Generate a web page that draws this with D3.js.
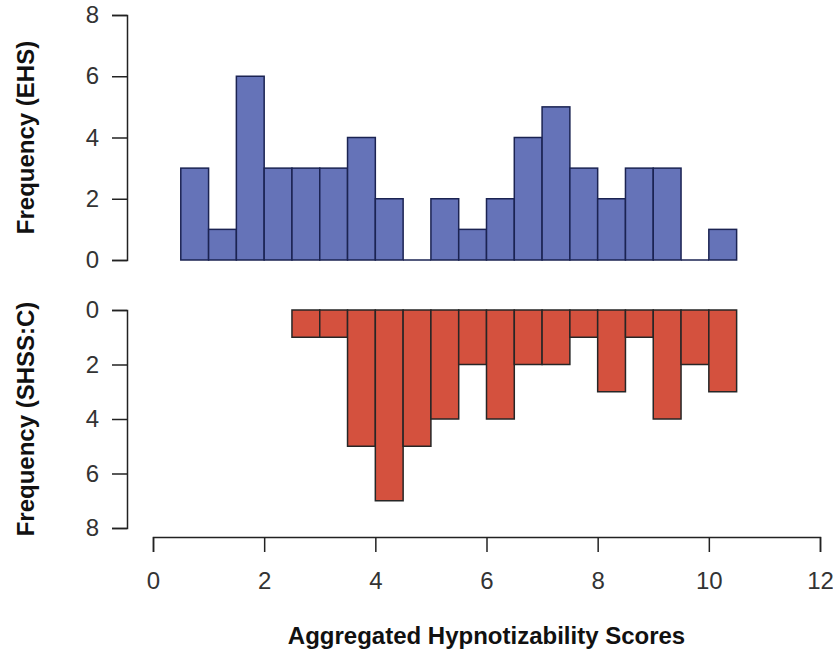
<!DOCTYPE html>
<html lang="en">
<head>
    <meta charset="UTF-8">
    <title>Hypnotizability Histograms</title>
    <script src="https://d3js.org/d3.v7.min.js"></script>
    <style>
        * { margin: 0; padding: 0; box-sizing: border-box; }
        body { background: #fff; font-family: Arial, "Liberation Sans", sans-serif; }
        svg { display: block; }
    </style>
</head>
<body>
    <svg width="833" height="649"></svg>

    <script>
        // bin left edges (width 0.5)
        const binStarts = [0.5, 1, 1.5, 2, 2.5, 3, 3.5, 4, 4.5, 5, 5.5, 6, 6.5, 7, 7.5, 8, 8.5, 9, 9.5, 10];
        const binWidth = 0.5;

        // EHS counts, one per bin
        const ehsCounts = [3, 1, 6, 3, 3, 3, 4, 2, 0, 2, 1, 2, 4, 5, 3, 2, 3, 3, 0, 1];
        // SHSS:C counts (null = outside the data range)
        const shssCounts = [null, null, null, null, 1, 1, 5, 7, 5, 4, 2, 4, 2, 2, 1, 3, 1, 4, 2, 3];

        const xTicks = [0, 2, 4, 6, 8, 10, 12];
        const yTicks = [0, 2, 4, 6, 8];

        const svg = d3.select("svg");
        const font = "Arial, 'Liberation Sans', sans-serif";
        const axisColor = "#222";

        const x = d3.scaleLinear().domain([0, 12]).range([153, 820]);
        const yTop = d3.scaleLinear().domain([0, 8]).range([260, 15]);
        const yBot = d3.scaleLinear().domain([0, 8]).range([310, 528]);

        const ehs = binStarts.map((b, i) => ({ x0: b, x1: b + binWidth, n: ehsCounts[i] }));
        const shss = binStarts.map((b, i) => ({ x0: b, x1: b + binWidth, n: shssCounts[i] }))
            .filter(d => d.n !== null);

        // top histogram (bars grow upward)
        svg.append("g")
            .selectAll("rect")
            .data(ehs.filter(d => d.n > 0))
            .join("rect")
            .attr("x", d => x(d.x0))
            .attr("y", d => yTop(d.n))
            .attr("width", d => x(d.x1) - x(d.x0))
            .attr("height", d => yTop(0) - yTop(d.n))
            .attr("fill", "#6573b8")
            .attr("stroke", "#1b2352")
            .attr("stroke-width", 1.5);

        // empty bins are drawn as a flat line on the baseline
        svg.append("g")
            .selectAll("line")
            .data(ehs.filter(d => d.n === 0))
            .join("line")
            .attr("x1", d => x(d.x0))
            .attr("x2", d => x(d.x1))
            .attr("y1", yTop(0))
            .attr("y2", yTop(0))
            .attr("stroke", "#1b2352")
            .attr("stroke-width", 1.5);

        // bottom histogram (bars hang downward)
        svg.append("g")
            .selectAll("rect")
            .data(shss)
            .join("rect")
            .attr("x", d => x(d.x0))
            .attr("y", yBot(0))
            .attr("width", d => x(d.x1) - x(d.x0))
            .attr("height", d => yBot(d.n) - yBot(0))
            .attr("fill", "#d4513e")
            .attr("stroke", "#262626")
            .attr("stroke-width", 1.5);

        function styleAxis(g) {
            g.select(".domain").attr("stroke", axisColor).attr("stroke-width", 1.5);
            g.selectAll(".tick line").attr("stroke", axisColor).attr("stroke-width", 1.5);
            g.selectAll(".tick text")
                .attr("fill", "#333")
                .style("font-family", font)
                .style("font-size", "24px");
        }

        svg.append("g")
            .attr("transform", "translate(127,0)")
            .call(d3.axisLeft(yTop).tickValues(yTicks).tickSize(15).tickSizeOuter(15).tickPadding(13))
            .call(styleAxis);

        svg.append("g")
            .attr("transform", "translate(127,0)")
            .call(d3.axisLeft(yBot).tickValues(yTicks).tickSize(15).tickSizeOuter(15).tickPadding(13))
            .call(styleAxis);

        svg.append("g")
            .attr("transform", "translate(0,537)")
            .call(d3.axisBottom(x).tickValues(xTicks).tickSize(15).tickSizeOuter(15).tickPadding(20))
            .call(styleAxis);

        // axis titles
        const titleStyle = sel => sel
            .attr("text-anchor", "middle")
            .attr("fill", "#111")
            .style("font-family", font)
            .style("font-weight", "bold")
            .style("font-size", "24px");

        svg.append("text")
            .attr("transform", `translate(34,${(yTop.range()[0] + yTop.range()[1]) / 2}) rotate(-90)`)
            .text("Frequency (EHS)")
            .call(titleStyle);

        svg.append("text")
            .attr("transform", `translate(34,${(yBot.range()[0] + yBot.range()[1]) / 2}) rotate(-90)`)
            .text("Frequency (SHSS:C)")
            .call(titleStyle);

        svg.append("text")
            .attr("x", (x.range()[0] + x.range()[1]) / 2)
            .attr("y", 644)
            .text("Aggregated Hypnotizability Scores")
            .call(titleStyle);
    </script>
</body>
</html>
